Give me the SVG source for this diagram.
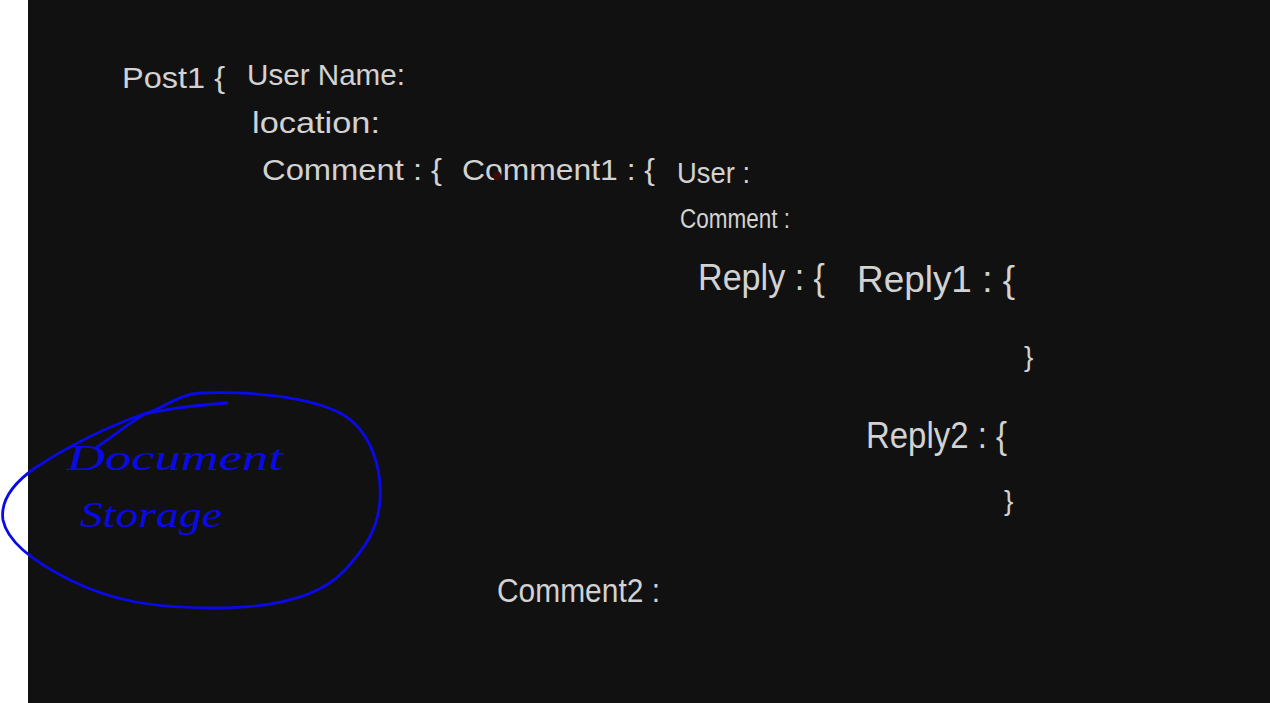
<svg xmlns="http://www.w3.org/2000/svg" width="1270" height="703" viewBox="0 0 1270 703">
<style>
.t{font-family:"Liberation Sans","DejaVu Sans",sans-serif;fill:#d2d2d2;font-size:30px;}
.b{font-family:"Liberation Serif","DejaVu Serif",serif;fill:#0a0ae8;font-size:36px;font-style:italic;}
.ink{fill:none;stroke:#0a0ae8;stroke-width:2.8;stroke-linecap:round;stroke-linejoin:round;}
</style>
<rect x="0" y="0" width="1270" height="703" fill="#ffffff"/>
<rect x="28" y="0" width="1242" height="703" fill="#111111"/>
<g id="post">
<text class="t" x="122" y="88" textLength="103" lengthAdjust="spacingAndGlyphs">Post1 {</text>
<text class="t" x="247" y="85" textLength="158" lengthAdjust="spacingAndGlyphs">User Name:</text>
<text class="t" x="252" y="133" textLength="128" lengthAdjust="spacingAndGlyphs">location:</text>
<text class="t" x="262" y="180" textLength="180" lengthAdjust="spacingAndGlyphs">Comment : {</text>
</g>
<g id="comment1">
<text class="t" x="462" y="180" textLength="193" lengthAdjust="spacingAndGlyphs">Comment1 : {</text>
<text class="t" x="677" y="183" textLength="73" lengthAdjust="spacingAndGlyphs">User :</text>
<text class="t" x="680" y="228" style="font-size:27px" textLength="110" lengthAdjust="spacingAndGlyphs">Comment :</text>
<text class="t" x="698" y="290" style="font-size:36px" textLength="127" lengthAdjust="spacingAndGlyphs">Reply : {</text>
</g>
<g id="reply1">
<text class="t" x="857" y="292" style="font-size:36px" textLength="158" lengthAdjust="spacingAndGlyphs">Reply1 : {</text>
<text class="t" x="1024" y="366" style="font-size:28px">}</text>
</g>
<g id="reply2">
<text class="t" x="866" y="448" style="font-size:36px" textLength="141" lengthAdjust="spacingAndGlyphs">Reply2 : {</text>
<text class="t" x="1004" y="510" style="font-size:28px">}</text>
</g>
<g id="comment2">
<text class="t" x="497" y="602" style="font-size:33px" textLength="163" lengthAdjust="spacingAndGlyphs">Comment2 :</text>
</g>
<ellipse cx="497" cy="176" rx="4" ry="5" fill="#3a0a0a"/>
<g id="document-storage">
<path class="ink" d="M200,393 C260,391 310,398 340,413 C372,430 382,470 380,500 C378,530 365,548 345,570 C322,595 280,608 215,608 C150,608 110,600 70,580 C40,565 8,545 3,520 C0,500 15,482 35,468 C70,445 110,425 155,410 C175,400 185,394 200,393 Z"/>
<path class="ink" d="M97,447 C115,435 130,422 145,414 C170,408 200,405 227,403"/>
<text class="b" x="67" y="470" textLength="216" lengthAdjust="spacingAndGlyphs">Document</text>
<text class="b" x="80" y="527" textLength="142" lengthAdjust="spacingAndGlyphs">Storage</text>
</g>
</svg>
